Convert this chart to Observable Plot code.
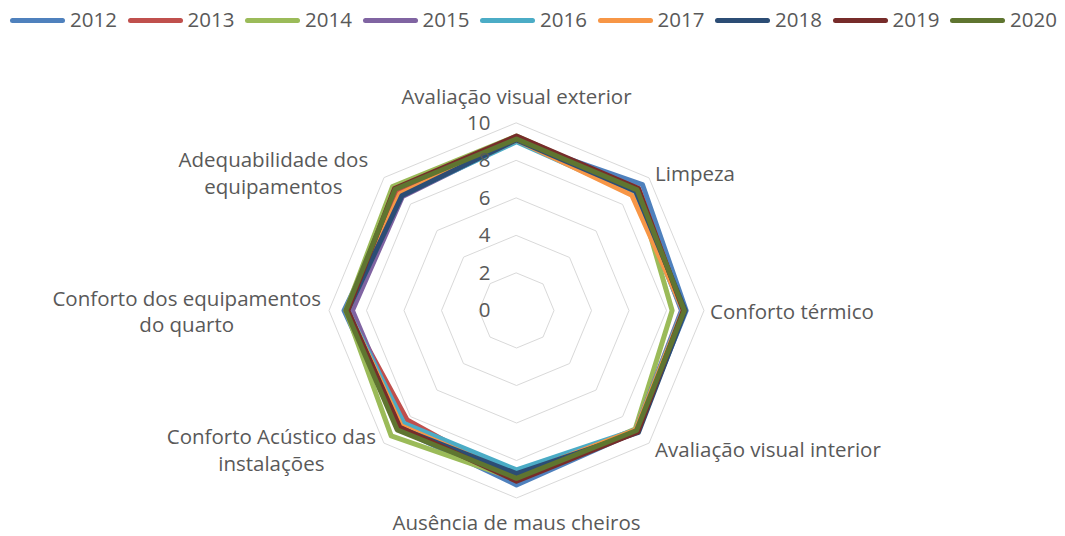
<!DOCTYPE html>
<html><head><meta charset="utf-8">
<script src="https://cdn.jsdelivr.net/npm/d3@7"></script>
<script src="https://cdn.jsdelivr.net/npm/@observablehq/plot@0.6"></script>
<style>
body{margin:0;background:#fff;font-family:"Open Sans",sans-serif;}
#legend{height:36px;display:flex;padding-left:10px;align-items:center;font-size:20.5px;color:#595959;box-sizing:border-box;padding-top:2px}
.item{width:117.5px;display:flex;align-items:center;flex:none}
.sw{width:55px;height:5px;border-radius:3px;margin-right:5px;margin-top:3px}
#chart svg{display:block}
</style></head><body>
<div id="legend"></div>
<div id="chart"></div>
<script>
const categories = [
  "Avaliação visual exterior",
  "Limpeza",
  "Conforto térmico",
  "Avaliação visual interior",
  "Ausência de maus cheiros",
  "Conforto Acústico das\ninstalações",
  "Conforto dos equipamentos\ndo quarto",
  "Adequabilidade dos\nequipamentos"
];
const years = ["2012","2013","2014","2015","2016","2017","2018","2019","2020"];
const colors = ["#4F81BD","#C0504D","#9BBB59","#8064A2","#4BACC6","#F79646","#2C4D75","#772C2A","#5F7530"];
const s2012 = [9.05, 9.5, 9.05, 9.1, 9.3, 8.9, 9.2, 8.8];
const s2013 = [9.2, 9.2, 8.9, 9.0, 9.05, 8.25, 9.0, 8.9];
const s2014 = [9.3, 9.1, 8.3, 8.95, 9.0, 9.45, 9.1, 9.35];
const s2015 = [9.1, 9.0, 8.8, 9.0, 8.9, 8.7, 8.75, 8.6];
const s2016 = [9.0, 8.8, 8.85, 9.0, 8.5, 8.5, 9.0, 8.7];
const s2017 = [9.1, 8.7, 8.9, 9.0, 8.8, 8.7, 9.0, 8.8];
const s2018 = [9.1, 9.0, 9.0, 9.2, 8.7, 8.85, 9.0, 8.65];
const s2019 = [9.3, 9.2, 8.9, 9.15, 9.1, 8.8, 9.0, 9.2];
const s2020 = [9.15, 9.1, 8.95, 9.05, 8.95, 9.0, 9.1, 9.15];
const tickValues = [0, 2, 4, 6, 8, 10];

const series = [s2012,s2013,s2014,s2015,s2016,s2017,s2018,s2019,s2020];

// legend
const leg = document.getElementById("legend");
years.forEach((y, i) => {
  const it = document.createElement("div"); it.className = "item";
  const sw = document.createElement("span"); sw.className = "sw"; sw.style.background = colors[i];
  const tx = document.createElement("span"); tx.textContent = y;
  it.appendChild(sw); it.appendChild(tx); leg.appendChild(it);
});

const W = 1065, H = 500, cx = 516, cy = 274, k = 18.75;
const n = categories.length;
const ang = i => i * 2 * Math.PI / n;
const px = (v, i) => v * Math.sin(ang(i));
const py = (v, i) => v * Math.cos(ang(i));

const rows = [];
years.forEach((yr, s) => series[s].forEach((v, i) => rows.push({year: yr, i, v})));

const rings = [];
tickValues.filter(t => t > 0).forEach(t => categories.forEach((c, i) => rings.push({t, i})));

const ctx = document.createElement("canvas").getContext("2d");
ctx.font = "20.5px 'Open Sans'";
const labelRows = categories.map((c, i) => {
  const th = ang(i), s = Math.sin(th), co = Math.cos(th);
  const vx = 10 * s, vy = 10 * co;
  const w = Math.max(...c.split("\n").map(l => ctx.measureText(l).width));
  let x, y, anchor = "middle";
  if (Math.abs(s) < 0.01) {
    x = vx; y = vy + (co > 0 ? 28 : -23.5) / k;
  } else if (s > 0) {
    anchor = "start"; x = vx + 6 / k; y = vy + co * 8 / k;
  } else {
    const gap = 8 + 11 * Math.max(0, co);
    x = vx - (gap + w / 2) / k; y = vy + co * 8 / k;
  }
  return {c, x, y, anchor};
});

const chart = Plot.plot({
  width: W, height: H, margin: 0,
  x: {domain: [-cx / k, (W - cx) / k], axis: null},
  y: {domain: [-(H - cy) / k, cy / k], axis: null},
  color: {domain: years, range: colors},
  style: {fontFamily: "'Open Sans', sans-serif", fontSize: "20.5px", color: "#595959", background: "#fff"},
  marks: [
    Plot.line(rings, {x: d => px(d.t, d.i), y: d => py(d.t, d.i), z: "t", curve: "linear-closed", stroke: "#d9d9d9", strokeWidth: 1}),
    Plot.line(rows, {x: d => px(d.v, d.i), y: d => py(d.v, d.i), z: "year", stroke: "year", strokeWidth: 5, curve: "linear-closed", strokeLinejoin: "round"}),
    Plot.text(tickValues, {x: 0, y: d => d, text: d => String(d), textAnchor: "end", dx: -26, fill: "#595959", fontSize: 20.5}),
    ...["start", "middle"].map(a => Plot.text(labelRows.filter(d => d.anchor === a), {x: "x", y: "y", text: "c", textAnchor: a, lineAnchor: "middle", lineHeight: 1.3, fill: "#595959", fontSize: 20.5}))
  ]
});
document.getElementById("chart").appendChild(chart);
</script>
</body></html>
